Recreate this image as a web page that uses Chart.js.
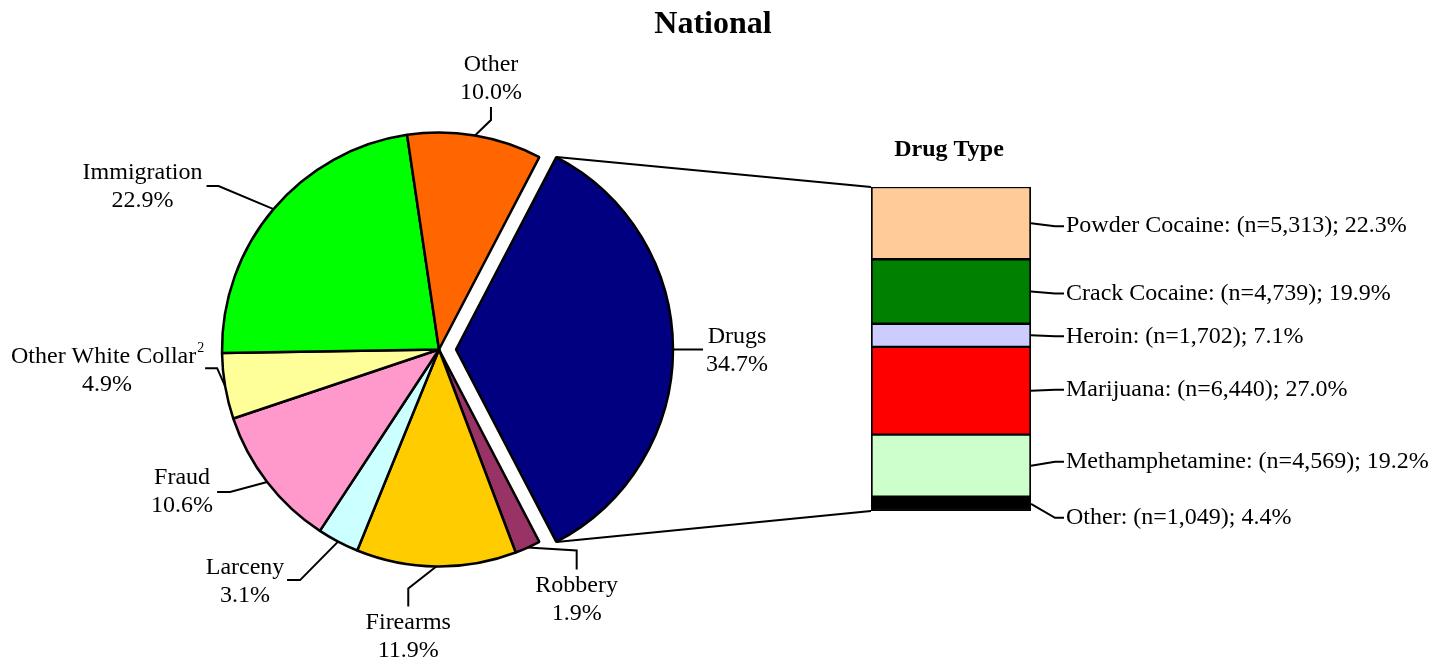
<!DOCTYPE html>
<html>
<head>
<meta charset="utf-8">
<title>National</title>
<script src="https://cdn.jsdelivr.net/npm/chart.js@4.4.1/dist/chart.umd.min.js"></script>
<style>
  html, body { margin: 0; padding: 0; background: #fff; }
  #wrap { position: relative; width: 1444px; height: 665px; overflow: hidden; }
  #pieChart { position: absolute; left: 0; top: 0; }
  #barChart { position: absolute; left: 860px; top: 120px; }
</style>
</head>
<body>
<div id="wrap">
  <canvas id="pieChart" width="1444" height="665"></canvas>
  <canvas id="barChart" width="584" height="420"></canvas>
</div>
<script>
// offense types, clockwise starting with the exploded slice
const crimeTypes = ["Drugs", "Robbery", "Firearms", "Larceny", "Fraud", "Other White Collar", "Immigration", "Other"];
const crimeShares = [34.7, 1.9, 11.9, 3.1, 10.6, 4.9, 22.9, 10.0];
const crimeColors = ["#000080", "#993366", "#FFCC00", "#CCFFFF", "#FF99CC", "#FFFF99", "#00FF00", "#FF6600"];

// drug type breakdown, top to bottom
const drugTypes = ["Powder Cocaine", "Crack Cocaine", "Heroin", "Marijuana", "Methamphetamine", "Other"];
const drugCounts = [5313, 4739, 1702, 6440, 4569, 1049];
const drugShares = [22.3, 19.9, 7.1, 27.0, 19.2, 4.4];
const drugColors = ["#FFCC99", "#008000", "#CCCCFF", "#FF0000", "#CCFFCC", "#000000"];

const FONT = '"Liberation Serif", "Times New Roman", serif';
const EXPLODE = 17;

// label placement relative to the slice's outer midpoint: leader bends, then text centre
const pieLabelLayout = [
  { leader: [[30, 0]], text: [64, 1.5] },
  { leader: [[49, 3], [49, 22]], text: [49, 52] },
  { leader: [[-28, 22], [-28, 40]], text: [-28, 70.5] },
  { leader: [[-38, 38.5], [-51, 38.5]], text: [-93, 40] },
  { leader: [[-37, 10], [-50, 10]], text: [-85, 10] },
  { leader: [[-8, -18], [-20, -18]], text: [-118, -15], sup: "2" },
  { leader: [[-55, -23], [-67, -23]], text: [-131, -22.5] },
  { leader: [[16, -15.5], [16, -28.5]], text: [16, -56.5] }
];
const drugLabelShift = [3, 2, 1, -1, -4, 14];

function drawLines(ctx, pts) {
  ctx.beginPath();
  ctx.moveTo(pts[0][0], pts[0][1]);
  for (let i = 1; i < pts.length; i++) ctx.lineTo(pts[i][0], pts[i][1]);
  ctx.stroke();
}

const barLabelPlugin = {
  id: 'barLabels',
  afterDatasetsDraw(chart) {
    const ctx = chart.ctx;
    const area = chart.chartArea;
    ctx.save();
    ctx.fillStyle = '#000';
    ctx.font = 'bold 24px ' + FONT;
    ctx.textAlign = 'center';
    ctx.textBaseline = 'middle';
    ctx.fillText('Drug Type', (area.left + area.right) / 2 - 2, area.top - 37);

    ctx.font = '24px ' + FONT;
    ctx.textAlign = 'left';
    ctx.strokeStyle = '#000';
    ctx.lineWidth = 2;
    drugTypes.forEach((name, i) => {
      const bar = chart.getDatasetMeta(i).data[0];
      const right = bar.x + bar.width / 2;
      const mid = (bar.y + bar.base) / 2;
      const ty = mid + drugLabelShift[i];
      drawLines(ctx, [[right, mid], [right + 24, ty], [right + 33, ty]]);
      const txt = name + ': (n=' + drugCounts[i].toLocaleString('en-US') + '); ' + drugShares[i].toFixed(1) + '%';
      ctx.fillText(txt, right + 35, ty);
    });
    ctx.restore();
  }
};

const barChart = new Chart(document.getElementById('barChart'), {
  type: 'bar',
  data: {
    labels: ['Drug Type'],
    datasets: drugTypes.map((name, i) => ({
      label: name,
      data: [drugCounts[i]],
      backgroundColor: drugColors[i],
      borderColor: '#000',
      borderWidth: { top: 1.5, bottom: 1.5, left: 2, right: 2 },
      borderSkipped: false,
      barPercentage: 1,
      categoryPercentage: 1
    }))
  },
  options: {
    responsive: false,
    animation: false,
    events: [],
    layout: { padding: { left: 11, right: 413, top: 67, bottom: 29 } },
    scales: {
      x: { stacked: true, display: false },
      y: { stacked: true, display: false, reverse: true, min: 0, max: drugCounts.reduce((a, b) => a + b, 0) }
    },
    plugins: { legend: { display: false }, tooltip: { enabled: false } }
  },
  plugins: [barLabelPlugin]
});

// pull the first slice out from the centre
const explodePlugin = {
  id: 'explode',
  afterUpdate(chart) {
    const arc = chart.getDatasetMeta(0).data[0];
    const mid = (arc.startAngle + arc.endAngle) / 2;
    arc.x += Math.cos(mid) * EXPLODE;
    arc.y += Math.sin(mid) * EXPLODE;
  }
};

const pieLabelPlugin = {
  id: 'pieLabels',
  afterDatasetsDraw(chart) {
    const ctx = chart.ctx;
    const arcs = chart.getDatasetMeta(0).data;
    ctx.save();
    ctx.fillStyle = '#000';
    ctx.strokeStyle = '#000';
    ctx.lineWidth = 2;

    ctx.font = 'bold 32px ' + FONT;
    ctx.textAlign = 'center';
    ctx.textBaseline = 'middle';
    ctx.fillText('National', 713, 25);

    // connectors from the exploded slice to the drug-type bar
    const drugs = arcs[0];
    const r = drugs.outerRadius;
    const bars = drugTypes.map((_, i) => barChart.getDatasetMeta(i).data[0]);
    const offX = barChart.canvas.offsetLeft, offY = barChart.canvas.offsetTop;
    const barLeft = offX + bars[0].x - bars[0].width / 2;
    const barTop = offY + Math.min(...bars.map(b => Math.min(b.y, b.base)));
    const barBottom = offY + Math.max(...bars.map(b => Math.max(b.y, b.base)));
    drawLines(ctx, [[drugs.x + r * Math.cos(drugs.startAngle), drugs.y + r * Math.sin(drugs.startAngle)], [barLeft, barTop]]);
    drawLines(ctx, [[drugs.x + r * Math.cos(drugs.endAngle), drugs.y + r * Math.sin(drugs.endAngle)], [barLeft, barBottom]]);

    ctx.font = '24px ' + FONT;
    arcs.forEach((arc, i) => {
      const lay = pieLabelLayout[i];
      const mid = (arc.startAngle + arc.endAngle) / 2;
      const ax = arc.x + Math.cos(mid) * arc.outerRadius;
      const ay = arc.y + Math.sin(mid) * arc.outerRadius;
      drawLines(ctx, [[ax, ay]].concat(lay.leader.map(p => [ax + p[0], ay + p[1]])));
      const tx = ax + lay.text[0], ty = ay + lay.text[1];
      const pct = crimeShares[i].toFixed(1) + '%';
      if (lay.sup) {
        ctx.font = '24px ' + FONT;
        const w1 = ctx.measureText(crimeTypes[i]).width;
        ctx.font = '14px ' + FONT;
        const w2 = ctx.measureText(lay.sup).width;
        const left = tx - (w1 + w2) / 2;
        ctx.textAlign = 'left';
        ctx.font = '24px ' + FONT;
        ctx.fillText(crimeTypes[i], left, ty - 14);
        ctx.font = '14px ' + FONT;
        ctx.fillText(lay.sup, left + w1 + 1, ty - 23);
        ctx.font = '24px ' + FONT;
        ctx.textAlign = 'center';
      } else {
        ctx.fillText(crimeTypes[i], tx, ty - 14);
      }
      ctx.fillText(pct, tx, ty + 14);
    });
    ctx.restore();
  }
};

const pieChart = new Chart(document.getElementById('pieChart'), {
  type: 'pie',
  data: {
    labels: crimeTypes,
    datasets: [{
      data: crimeShares,
      backgroundColor: crimeColors,
      borderColor: '#000',
      borderWidth: 2.5
    }]
  },
  options: {
    responsive: false,
    animation: false,
    events: [],
    rotation: 90 - crimeShares[0] * 3.6 / 2,
    radius: 217,
    layout: { padding: { left: 0, right: 566, top: 34, bottom: 0 } },
    plugins: { legend: { display: false }, tooltip: { enabled: false }, title: { display: false } }
  },
  plugins: [explodePlugin, pieLabelPlugin]
});
</script>
</body>
</html>
